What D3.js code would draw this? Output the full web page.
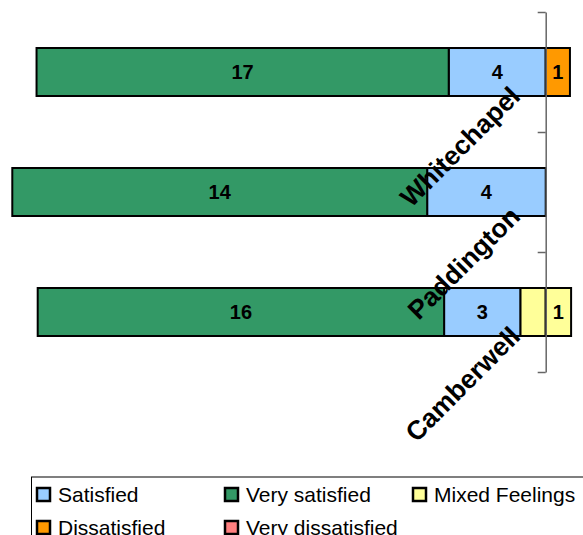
<!DOCTYPE html>
<html>
<head>
<meta charset="utf-8">
<script src="https://cdn.jsdelivr.net/npm/d3@7"></script>
<style>
  html, body { margin: 0; padding: 0; background: #fff; }
  svg { display: block; font-family: Arial, "Liberation Sans", sans-serif; }
</style>
</head>
<body>
<svg id="chart" width="583" height="535"></svg>
<script>
// Survey responses per site (counts)
const categories = ["Whitechapel", "Paddington", "Camberwell"];
const verySatisfied = [17, 14, 16];
const satisfied = [4, 4, 3];
const mixedFeelings = [0, 0, 2];
const dissatisfied = [1, 0, 0];
const veryDissatisfied = [0, 0, 0];

const legendLabels = ["Satisfied", "Very satisfied", "Mixed Feelings", "Dissatisfied", "Very dissatisfied"];
const colors = {
  "Very satisfied": "#339966",
  "Satisfied": "#99CCFF",
  "Mixed Feelings": "#FFFF99",
  "Dissatisfied": "#FF9900",
  "Very dissatisfied": "#FF8080"
};

const svg = d3.select("#chart");

// x: share of responses in percent, zero at the dividing axis
const x = d3.scaleLinear().domain([-100, 0]).range([12.3, 545.7]);
const y = d3.scaleBand().domain(categories).range([12, 372])
  .paddingInner(0.6).paddingOuter(0.3);

// Build diverging segments: positive responses to the left, negative to the right,
// mixed feelings split evenly across the zero line.
const segments = [];
categories.forEach((cat, i) => {
  const total = verySatisfied[i] + satisfied[i] + mixedFeelings[i] + dissatisfied[i] + veryDissatisfied[i];
  const pct = v => v / total * 100;
  let left = 0;
  const leftParts = [
    { key: "Mixed Feelings", value: mixedFeelings[i] / 2, label: false },
    { key: "Satisfied", value: satisfied[i], label: true },
    { key: "Very satisfied", value: verySatisfied[i], label: true }
  ];
  leftParts.forEach(p => {
    if (p.value <= 0) return;
    const x1 = -left, x0 = -(left + pct(p.value));
    segments.push({ cat, key: p.key, value: p.value, x0, x1, label: p.label });
    left += pct(p.value);
  });
  let right = 0;
  const rightParts = [
    { key: "Mixed Feelings", value: mixedFeelings[i] / 2, label: true },
    { key: "Dissatisfied", value: dissatisfied[i], label: true },
    { key: "Very dissatisfied", value: veryDissatisfied[i], label: true }
  ];
  rightParts.forEach(p => {
    if (p.value <= 0) return;
    const x0 = right, x1 = right + pct(p.value);
    segments.push({ cat, key: p.key, value: p.value, x0, x1, label: p.label });
    right += pct(p.value);
  });
});

const bars = svg.append("g");
bars.selectAll("rect")
  .data(segments)
  .join("rect")
  .attr("x", d => x(d.x0))
  .attr("y", d => y(d.cat))
  .attr("width", d => x(d.x1) - x(d.x0))
  .attr("height", y.bandwidth())
  .attr("fill", d => colors[d.key])
  .attr("stroke", "#000")
  .attr("stroke-width", 2);

bars.selectAll("text")
  .data(segments.filter(d => d.label))
  .join("text")
  .attr("x", d => (x(d.x0) + x(d.x1)) / 2)
  .attr("y", d => y(d.cat) + y.bandwidth() / 2)
  .attr("dy", "0.36em")
  .attr("text-anchor", "middle")
  .attr("font-size", 20)
  .attr("font-weight", "bold")
  .attr("fill", "#000")
  .text(d => d.value);

// Category axis along the zero line, ticks between the bands
const yEdges = d3.scaleLinear().domain([0, categories.length]).range(y.range());
const axis = svg.append("g")
  .attr("transform", `translate(${x(0)},0)`)
  .call(d3.axisLeft(yEdges).tickValues(d3.range(categories.length + 1)).tickFormat("")
    .tickSizeInner(8).tickSizeOuter(0));
axis.select(".domain").attr("stroke", "#666").attr("stroke-width", 1.5);
axis.selectAll(".tick line").attr("stroke", "#666").attr("stroke-width", 1.5);

svg.append("g").selectAll("text")
  .data(categories)
  .join("text")
  .attr("transform", d => `translate(${x(0) - 24},${y(d) + y.bandwidth() / 2 + 26}) rotate(-45)`)
  .attr("text-anchor", "end")
  .attr("font-size", 26.5)
  .attr("font-weight", "bold")
  .attr("fill", "#000")
  .text(d => d);

// Legend
const legend = svg.append("g");
legend.append("rect")
  .attr("x", 31.5).attr("y", 477)
  .attr("width", 600).attr("height", 80)
  .attr("fill", "none").attr("stroke", "#000").attr("stroke-width", 1);

const items = legend.selectAll("g.item")
  .data(legendLabels)
  .join("g")
  .attr("class", "item")
  .attr("transform", (d, i) => `translate(${37 + (i % 3) * 188},${488 + Math.floor(i / 3) * 33})`);
items.append("rect")
  .attr("width", 13).attr("height", 13)
  .attr("fill", d => colors[d])
  .attr("stroke", "#000").attr("stroke-width", 2.5);
items.append("text")
  .attr("x", 21).attr("y", 14)
  .attr("font-size", 21)
  .attr("fill", "#000")
  .text(d => d);
</script>
</body>
</html>
